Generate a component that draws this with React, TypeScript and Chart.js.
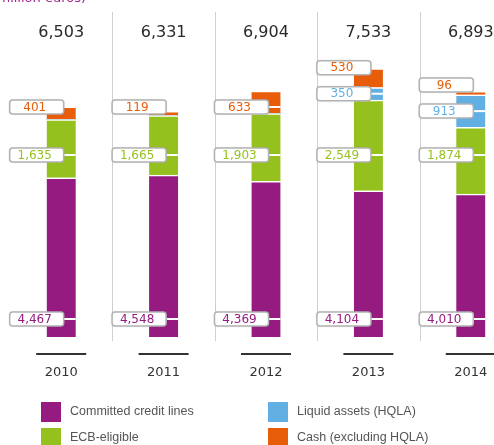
import React, { useEffect, useRef } from "react";
import { Chart, registerables } from "chart.js";

Chart.register(...registerables);

const years = ["2010", "2011", "2012", "2013", "2014"];
const committedCreditLines = [4467, 4548, 4369, 4104, 4010];
const ecbEligible = [1635, 1665, 1903, 2549, 1874];
const liquidAssets = [0, 0, 0, 350, 913];
const cashExclHqla = [401, 119, 633, 530, 96];
const totals = [6503, 6331, 6904, 7533, 6893];
const seriesNames = ["Committed credit lines", "ECB-eligible", "Liquid assets (HQLA)", "Cash (excluding HQLA)"];
const unitTitle = "(million euros)";

const PURPLE = "#951b81";
const GREEN = "#95c11f";
const BLUE = "#62b0e3";
const ORANGE = "#e85d0a";
const COLORS = [PURPLE, GREEN, BLUE, ORANGE];

const fmt = (v: number) => v.toLocaleString("en-US");

const FONT = "'DejaVu Sans', sans-serif";

function roundRect(ctx: CanvasRenderingContext2D, x: number, y: number, w: number, h: number, r: number) {
  ctx.beginPath();
  ctx.moveTo(x + r, y);
  ctx.lineTo(x + w - r, y);
  ctx.quadraticCurveTo(x + w, y, x + w, y + r);
  ctx.lineTo(x + w, y + h - r);
  ctx.quadraticCurveTo(x + w, y + h, x + w - r, y + h);
  ctx.lineTo(x + r, y + h);
  ctx.quadraticCurveTo(x, y + h, x, y + h - r);
  ctx.lineTo(x, y + r);
  ctx.quadraticCurveTo(x, y, x + r, y);
  ctx.closePath();
}

const decorPlugin = {
  id: "decor",
  beforeDatasetsDraw(chart: any) {
    const ctx = chart.ctx as CanvasRenderingContext2D;
    const xs = chart.scales.x;
    const area = chart.chartArea;
    ctx.save();
    ctx.strokeStyle = "#cfcfcf";
    ctx.lineWidth = 1;
    for (let i = 0; i < years.length - 1; i++) {
      const xb = Math.round((xs.getPixelForValue(i) + xs.getPixelForValue(i + 1)) / 2) + 0.5;
      ctx.beginPath();
      ctx.moveTo(xb, 12);
      ctx.lineTo(xb, area.bottom + 4);
      ctx.stroke();
    }
    ctx.restore();
  },
  afterDatasetsDraw(chart: any) {
    const ctx = chart.ctx as CanvasRenderingContext2D;
    const xs = chart.scales.x;
    const ys = chart.scales.y;
    const area = chart.chartArea;
    const barW = 29;
    ctx.save();

    // title (cropped at the top)
    ctx.fillStyle = "#a3238e";
    ctx.font = `13px ${FONT}`;
    ctx.textAlign = "right";
    ctx.textBaseline = "alphabetic";
    ctx.fillText(unitTitle, 86, 2);

    const drawLabel = (cx: number, y: number, text: string, color: string) => {
      const barLeft = cx - barW / 2;
      const bx = barLeft - 37;
      const bw = 54;
      const bh = 14;
      // connector
      ctx.strokeStyle = "#ffffff";
      ctx.lineWidth = 2;
      ctx.beginPath();
      ctx.moveTo(bx + bw, y);
      ctx.lineTo(barLeft + barW, y);
      ctx.stroke();
      // box
      ctx.save();
      ctx.shadowColor = "rgba(0,0,0,0.25)";
      ctx.shadowBlur = 2;
      roundRect(ctx, bx, y - bh / 2, bw, bh, 3);
      ctx.fillStyle = "#ffffff";
      ctx.fill();
      ctx.restore();
      roundRect(ctx, bx, y - bh / 2, bw, bh, 3);
      ctx.strokeStyle = "#b3b3b3";
      ctx.lineWidth = 1.5;
      ctx.stroke();
      ctx.fillStyle = color;
      ctx.font = `12px ${FONT}`;
      ctx.textAlign = "center";
      ctx.textBaseline = "middle";
      ctx.fillText(text, bx + bw / 2 - 2, y + 0.5);
    };

    for (let i = 0; i < years.length; i++) {
      const cx = xs.getPixelForValue(i);
      // totals
      ctx.fillStyle = "#2a2a2a";
      ctx.font = `16px ${FONT}`;
      ctx.textAlign = "center";
      ctx.textBaseline = "middle";
      ctx.fillText(fmt(totals[i]), cx, area.top - 19);

      // baseline + year
      ctx.strokeStyle = "#333333";
      ctx.lineWidth = 2;
      ctx.beginPath();
      ctx.moveTo(cx - 25, area.bottom + 17);
      ctx.lineTo(cx + 25, area.bottom + 17);
      ctx.stroke();
      ctx.fillStyle = "#333333";
      ctx.font = `13px ${FONT}`;
      ctx.fillText(years[i], cx, area.bottom + 36);

      // labels
      const purpleY = area.bottom - 18;
      const greenY = area.top + 103;
      drawLabel(cx, purpleY, fmt(committedCreditLines[i]), PURPLE);
      drawLabel(cx, greenY, fmt(ecbEligible[i]), GREEN);
      let orangeY = area.top + 55;
      if (liquidAssets[i] > 0) {
        const base = committedCreditLines[i] + ecbEligible[i];
        const blueY = ys.getPixelForValue(base + liquidAssets[i] / 2);
        orangeY = Math.min(orangeY, blueY - 26);
        drawLabel(cx, blueY, fmt(liquidAssets[i]), BLUE);
      }
      drawLabel(cx, orangeY, fmt(cashExclHqla[i]), ORANGE);
    }

    // legend
    const legendPos = [
      [41, 402],
      [41, 428],
      [268, 402],
      [268, 428],
    ];
    for (let k = 0; k < 4; k++) {
      const [lx, ly] = legendPos[k];
      ctx.fillStyle = COLORS[k];
      ctx.fillRect(lx, ly, 20, 20);
      ctx.fillStyle = "#555555";
      ctx.font = `12.5px 'Liberation Sans', sans-serif`;
      ctx.textAlign = "left";
      ctx.textBaseline = "middle";
      ctx.fillText(seriesNames[k], lx + 29, ly + 10);
    }
    ctx.restore();
  },
};

export default function App() {
  const ref = useRef<HTMLCanvasElement | null>(null);
  useEffect(() => {
    if (!ref.current) return;
    const mk = (label: string, data: number[], color: string) => ({
      label,
      data,
      backgroundColor: color,
      borderColor: "#ffffff",
      borderWidth: { top: 1.5, left: 0, right: 0, bottom: 0 },
      borderSkipped: false,
      barThickness: 29,
    });
    const chart = new Chart(ref.current, {
      type: "bar",
      data: {
        labels: years,
        datasets: [
          mk(seriesNames[0], committedCreditLines, PURPLE),
          mk(seriesNames[1], ecbEligible, GREEN),
          mk(seriesNames[2], liquidAssets, BLUE),
          mk(seriesNames[3], cashExclHqla, ORANGE),
        ] as any,
      },
      options: {
        animation: false,
        responsive: false,
        layout: { padding: { left: 10, right: 8, top: 52, bottom: 108 } },
        plugins: { legend: { display: false }, tooltip: { enabled: false } },
        scales: {
          x: { stacked: true, display: false },
          y: { stacked: true, display: false, min: 0, max: 8000 },
        },
      },
      plugins: [decorPlugin],
    });
    return () => chart.destroy();
  }, []);
  return (
    <div style={{ position: "fixed", left: 0, top: 0, width: 494, height: 445, overflow: "hidden", background: "#fff" }}>
      <canvas ref={ref} width={530} height={445} style={{ width: 530, height: 445, display: "block" }} />
    </div>
  );
}
